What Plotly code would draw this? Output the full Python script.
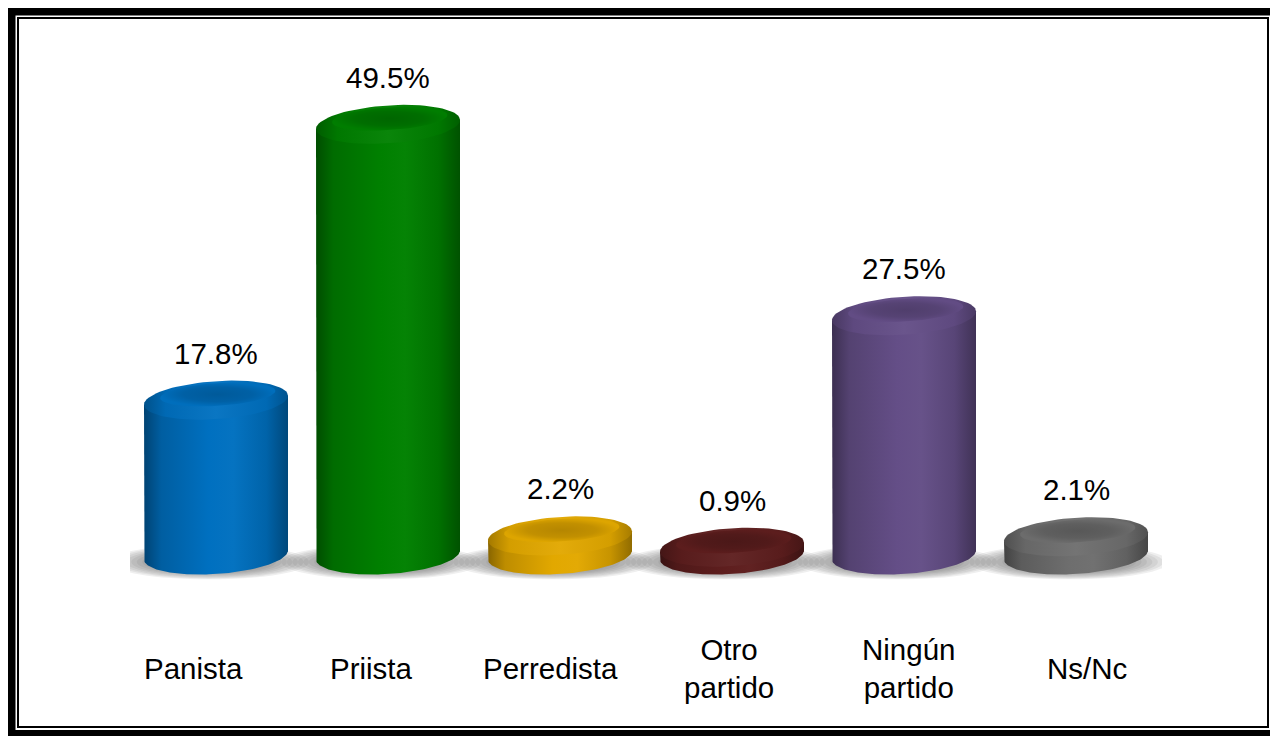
import numpy as np
import plotly.graph_objects as go

# ---------------- data ----------------
categories = ["Panista", "Priista", "Perredista", "Otro<br>partido", "Ningún<br>partido", "Ns/Nc"]
values = [17.8, 49.5, 2.2, 0.9, 27.5, 2.1]
value_labels = ["17.8%", "49.5%", "2.2%", "0.9%", "27.5%", "2.1%"]
colors = ["#0070C0", "#008000", "#E2A800", "#5E1E1E", "#644E87", "#6E6E6E"]

# ---------------- layout geometry (page pixels) ----------------
OFF = 8                      # page body margin of the html document
W, H = 1278 - OFF, 736 - OFF
ML, MR, MT, MB = 130 - OFF, 116, 40 - OFF, 36
PW, PH = W - ML - MR, H - MT - MB
PX_PER_Y = 8.7
BASE_PX = 555 - OFF
Y_TOP = (BASE_PX - MT) / PX_PER_Y
Y_BOT = Y_TOP - PH / PX_PER_Y
PX_PER_X = PW / len(categories)

HW = 72 / PX_PER_X           # half width of cylinder (x units)
RY = 19 / PX_PER_Y           # ellipse vertical semi-axis (y units)
K = (4.5 / PX_PER_Y) / HW    # perspective tilt
LABEL_Y = (BASE_PX - (668 - OFF)) / PX_PER_Y
FONT = "Liberation Sans, Arial, sans-serif"
FS = 29.5

# floor axis for the category labels (perspective: slightly wider spacing)
X2_PX_PER = 178.8
X2_FIRST = 193 - OFF
X2_RANGE = [-(X2_FIRST - ML) / X2_PX_PER, (ML + PW - X2_FIRST) / X2_PX_PER]


def hex2rgb(h):
    h = h.lstrip("#")
    return tuple(int(h[i:i + 2], 16) for i in (0, 2, 4))


def shade(h, f):
    r, g, b = hex2rgb(h)
    if f < 1:
        r, g, b = r * f, g * f, b * f
    else:
        t = f - 1
        r, g, b = r + (255 - r) * t, g + (255 - g) * t, b + (255 - b) * t
    return "rgb(%d,%d,%d)" % (round(r), round(g), round(b))


def ellipse(cx, cy, a, b, t0=0.0, t1=2 * np.pi, n=80):
    t = np.linspace(t0, t1, n)
    return cx + a * np.cos(t), cy + b * np.sin(t) + K * a * np.cos(t)


fig = go.Figure()
shapes = []

for i, (v, col) in enumerate(zip(values, colors)):
    c = float(i)
    # soft shadow under the base
    for j in range(8):
        s = 1.0 - j * 0.055
        shapes.append(dict(type="circle", xref="x", yref="y", layer="below",
                           x0=c - 0.04 - 0.58 * s, x1=c - 0.04 + 0.58 * s,
                           y0=-0.8 - 2.0 * s, y1=-0.8 + 2.0 * s,
                           fillcolor="rgba(80,80,80,0.095)", line=dict(width=0)))

    # cylinder body
    ax, ay = ellipse(c, 0.0, HW, RY, np.pi, 2 * np.pi)
    bx = np.concatenate([[c - HW], ax, [c + HW, c + HW, c - HW]])
    by = np.concatenate([[v - K * HW], ay, [K * HW + v, K * HW + v, v - K * HW]])
    body_scale = [[0.0, shade(col, 0.6)], [0.12, shade(col, 0.84)],
                  [0.45, shade(col, 1.0)], [0.62, shade(col, 1.02)],
                  [0.85, shade(col, 0.88)], [1.0, shade(col, 0.64)]]
    fig.add_trace(go.Scatter(x=bx, y=by, mode="lines", fill="toself",
                             line=dict(width=0), hoverinfo="skip", showlegend=False,
                             fillgradient=dict(type="horizontal", colorscale=body_scale)))

    # top cap
    tx, ty = ellipse(c, v, HW, RY)
    cap_scale = [[0.0, shade(col, 0.72)], [0.15, shade(col, 0.94)],
                 [0.5, shade(col, 1.04)], [0.85, shade(col, 0.94)], [1.0, shade(col, 0.74)]]
    fig.add_trace(go.Scatter(x=tx, y=ty, mode="lines", fill="toself",
                             line=dict(width=0), hoverinfo="skip", showlegend=False,
                             fillgradient=dict(type="horizontal", colorscale=cap_scale)))
    ix, iy = ellipse(c + 0.01, v + 0.3 * RY, HW * 0.8, RY * 0.6)
    fig.add_trace(go.Scatter(x=ix, y=iy, mode="lines", fill="toself",
                             line=dict(width=0), hoverinfo="skip", showlegend=False,
                             fillgradient=dict(type="radial",
                                               colorscale=[[0.0, shade(col, 0.8)],
                                                           [0.6, shade(col, 0.86)],
                                                           [1.0, shade(col, 0.98)]])))

annotations = []
for i, (v, lab) in enumerate(zip(values, value_labels)):
    annotations.append(dict(x=i, y=v, xref="x", yref="y", text=lab, showarrow=False,
                            yshift=47, yanchor="middle",
                            font=dict(family=FONT, size=FS, color="#000000")))
for i, cat in enumerate(categories):
    annotations.append(dict(x=i, y=LABEL_Y, xref="x2", yref="y", text=cat, showarrow=False,
                            yanchor="middle",
                            font=dict(family=FONT, size=FS, color="#000000")))


def xp(px):
    return (px - OFF - ML) / PW


def yp(py):
    return 1 - (py - OFF - MT) / PH


# double frame around the chart
shapes.append(dict(type="rect", xref="paper", yref="paper",
                   x0=xp(11.5), x1=xp(1275), y0=yp(11.5), y1=yp(734),
                   line=dict(color="#000000", width=8), fillcolor="rgba(0,0,0,0)"))
shapes.append(dict(type="rect", xref="paper", yref="paper",
                   x0=xp(18), x1=xp(1268), y0=yp(18), y1=yp(727),
                   line=dict(color="#000000", width=2), fillcolor="rgba(0,0,0,0)"))

fig.update_layout(
    width=W, height=H,
    margin=dict(l=ML, r=MR, t=MT, b=MB),
    paper_bgcolor="#FFFFFF", plot_bgcolor="#FFFFFF",
    xaxis=dict(range=[-0.5, len(categories) - 0.5], visible=False, fixedrange=True),
    xaxis2=dict(range=X2_RANGE, visible=False, fixedrange=True, overlaying="x"),
    yaxis=dict(range=[Y_BOT, Y_TOP], visible=False, fixedrange=True),
    shapes=shapes, annotations=annotations,
    hovermode=False, showlegend=False,
)

fig.write_html("out.html")
